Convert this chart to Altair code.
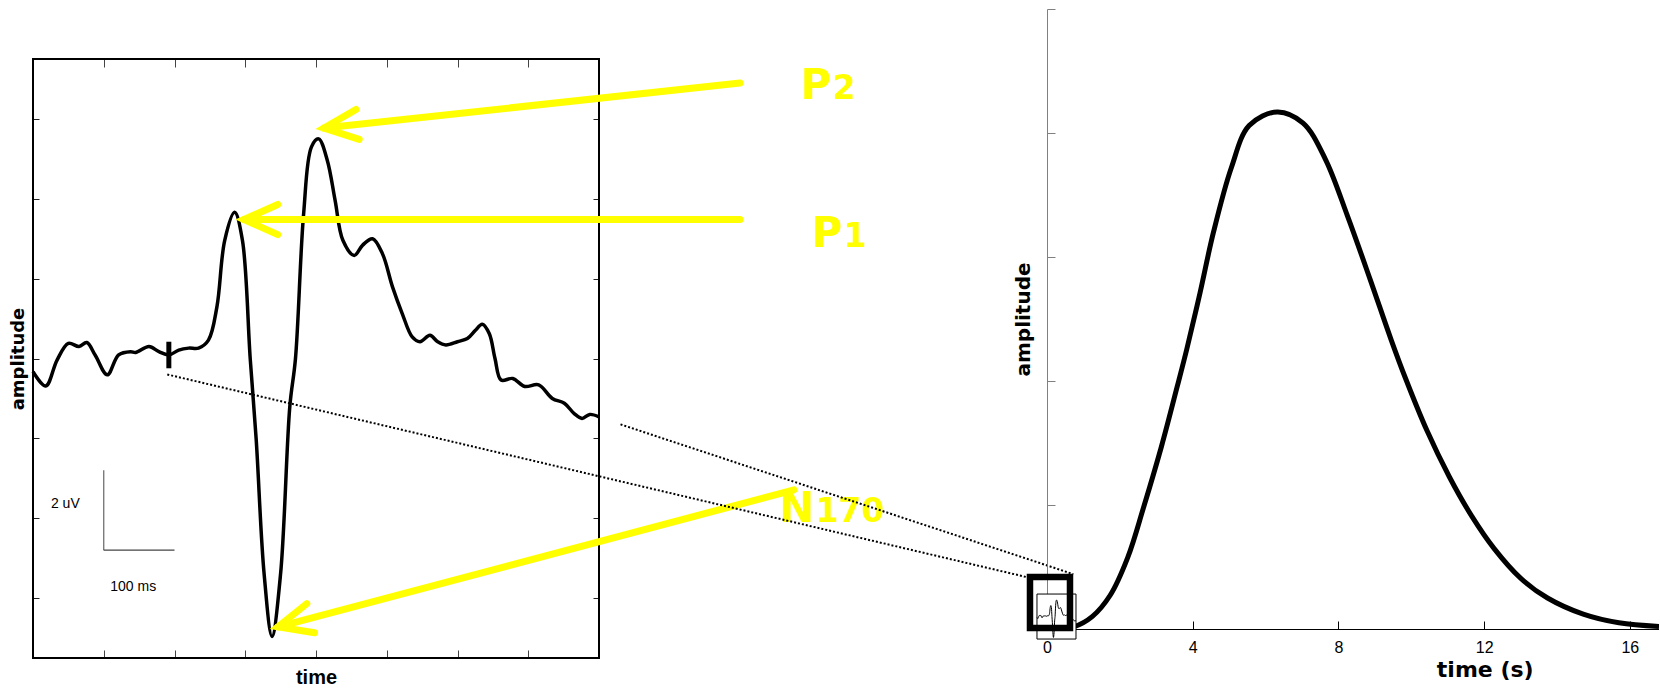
import math

import altair as alt
import pandas as pd

# ---------------- ERP trace (left panel): time in ms, amplitude in microvolts ----------------
erp_ms = [-200, -182, -166, -150, -135, -124, -112, -95, -79, -62, -55, -36, -22, -8, 6, 20, 34,
          48, 60, 71, 85, 96, 107, 115.5, 126.6, 137.8, 150, 163, 171, 182.5, 193.6, 203.7,
          216, 227, 238, 254, 266, 280, 294, 308, 322, 336, 347, 361, 372, 383.5, 400, 414,
          425, 435, 445, 453, 461.6, 478, 495, 514.7, 534, 551, 565, 576, 587, 600]
erp_uv = [-0.33, -0.69, -0.04, 0.38, 0.30, 0.40, 0.08, -0.41, 0.09, 0.17, 0.15, 0.30, 0.17, 0.09, 0.21, 0.26, 0.26,
          0.46, 1.30, 2.96, 3.66, 2.96, 0.0, -2.04, -5.38, -6.96, -5.38, -1.2, 0.0, 3.62, 5.30, 5.50,
          4.96, 3.96, 2.96, 2.58, 2.84, 3.0, 2.62, 1.8, 1.12, 0.54, 0.42, 0.58, 0.42, 0.34, 0.42, 0.50,
          0.70, 0.86, 0.62, 0.0, -0.54, -0.50, -0.70, -0.66, -1.0, -1.12, -1.38, -1.50, -1.40, -1.46]

# ---------------- haemodynamic response (right panel): time in s, arbitrary amplitude ----------------
hrf_t = [0, 0.75, 1.24, 1.73, 2.22, 2.65, 3.14, 3.57, 3.84, 4.20, 4.57, 5.06, 5.55, 6.32, 7.03,
         7.64, 8.25, 8.87, 9.45, 9.83, 10.43, 11.04, 11.66, 12.27, 13.0, 13.74, 14.72, 15.70, 16.8]
hrf_amp = [0, 0.02, 0.10, 0.27, 0.58, 0.98, 1.47, 1.95, 2.26, 2.71, 3.20, 3.72, 4.06, 4.17, 4.08,
           3.79, 3.33, 2.82, 2.33, 2.03, 1.60, 1.23, 0.91, 0.65, 0.41, 0.25, 0.12, 0.05, 0.02]

# ERP components: arrow tip, arrow tail and label anchor, in (ms, uV)
comp_letter = ["P", "P", "N"]
comp_digits = ["2", "1", "170"]
tip_ms = [211.3, 98.2, 146.3]
tip_uv = [5.77, 3.48, -6.72]
tail_ms = [799.3, 799.3, 875.6]
tail_uv = [6.90, 3.48, -3.29]
label_ms = [928.8, 944.4, 904.8]
label_uv = [6.50, 2.79, -4.09]

# dotted connectors from the ERP panel to the zoom box on the HRF time axis
link_ms = [-10.2, 630.4]
link_uv = [-0.40, -1.65]
link_end_ms = [1203.5, 1270.4]
link_end_uv = [-5.47, -5.40]

# stimulus onset marker
onset_ms = [-8]
onset_top = [0.42]
onset_bottom = [-0.245]

# calibration bars: 100 ms and 2 uV
calib_ms = [-100, 0]
calib_uv = [-2.8, -4.8]
calib_text = ["2 uV", "100 ms"]
calib_text_ms = [-154.3, -58.4]
calib_text_uv = [-3.64, -5.73]

# tick positions
erp_ticks_x = [-100, 0, 100, 200, 300, 400, 500]
erp_ticks_y = [-6, -4, -2, 0, 2, 4, 6]
hrf_ticks_x = [0, 4, 8, 12, 16]
hrf_ticks_y = [0, 1, 2, 3, 4, 5]

# zoom box around the HRF onset, and the miniature ERP inset (in s, amplitude)
focus_t = [-0.467, 0.631]
focus_amp = [0.008, 0.419]
inset_t = [-0.275, 0.796]
inset_amp = [-0.081, 0.282]

# ---------------- layout ----------------
W_L = 566          # ERP frame width
H_FRAME = 599      # ERP frame height
TOP_GAP = 50       # space above the ERP frame (the HRF panel starts higher)
H_L = H_FRAME + TOP_GAP
W_R, H_R = 612, 620
ERP_X = [-200, 600]
ERP_Y = [-7.5, 7.5]
HRF_X = [0, 16.8]
HRF_Y = [0, 5]
YELLOW = "#FFFF00"
NARROW = "Liberation Sans Narrow, Liberation Sans, sans-serif"

uv_per_px = (ERP_Y[1] - ERP_Y[0]) / H_FRAME
xs_l = alt.Scale(domain=ERP_X, nice=False, zero=False)
ys_l = alt.Scale(domain=[ERP_Y[0], ERP_Y[1] + TOP_GAP * uv_per_px], nice=False, zero=False)
xs_r = alt.Scale(domain=HRF_X, nice=False, zero=False)
ys_r = alt.Scale(domain=HRF_Y, nice=False, zero=False)


def tick_axis(orient, offset, values, size, color):
    """Ticks only; placed on the opposite edge so they point into the plot."""
    return alt.Axis(orient=orient, offset=offset, values=values, domain=False, labels=False,
                    grid=False, ticks=True, tickSize=size, tickColor=color, tickWidth=1,
                    title=None)


erp = pd.DataFrame({"ms": erp_ms, "uv": erp_uv})
hrf = pd.DataFrame({"t": hrf_t, "amp": hrf_amp})

# arrow geometry: head angle follows the shaft direction on screen
px_ms = W_L / (ERP_X[1] - ERP_X[0])
px_uv = H_FRAME / (ERP_Y[1] - ERP_Y[0])
angles = []
for a, b, c, d in zip(tip_ms, tip_uv, tail_ms, tail_uv):
    ang = math.degrees(math.atan2(-(d - b) * px_uv, (c - a) * px_ms)) % 360
    angles.append(ang)

comps = pd.DataFrame({
    "letter": comp_letter, "digits": comp_digits,
    "tip_ms": tip_ms, "tip_uv": tip_uv, "tail_ms": tail_ms, "tail_uv": tail_uv,
    "lab_ms": label_ms, "lab_uv": label_uv, "ang": angles,
})
links = pd.DataFrame({"ms": link_ms, "uv": link_uv, "ms2": link_end_ms, "uv2": link_end_uv})
onset = pd.DataFrame({"ms": onset_ms, "top": onset_top, "bottom": onset_bottom})
calib_v = pd.DataFrame({"ms": [calib_ms[0]], "uv": [calib_uv[0]], "uv2": [calib_uv[1]]})
calib_h = pd.DataFrame({"ms": [calib_ms[0]], "ms2": [calib_ms[1]], "uv": [calib_uv[1]]})
calib_lbl = pd.DataFrame({"text": calib_text, "ms": calib_text_ms, "uv": calib_text_uv})
frame_df = pd.DataFrame({"x0": [ERP_X[0]], "x1": [ERP_X[1]], "y0": [ERP_Y[0]], "y1": [ERP_Y[1]]})

# ---------------- left panel: ERP ----------------
frame = alt.Chart(frame_df).mark_rect(fillOpacity=0, stroke="black", strokeWidth=2).encode(
    x=alt.X("x0:Q", scale=xs_l, axis=alt.Axis(
        orient="bottom", domain=False, ticks=False, labels=False, grid=False,
        title="time", titleFont=NARROW, titleFontSize=20, titleFontWeight="bold",
        titleColor="black", titleX=W_L / 2, titleY=25, titleAlign="center",
        titleBaseline="alphabetic")),
    x2="x1:Q",
    y=alt.Y("y0:Q", scale=ys_l, axis=alt.Axis(
        orient="left", domain=False, ticks=False, labels=False, grid=False,
        title="amplitude", titleFont="DejaVu Sans", titleFontSize=18, titleFontWeight="bold",
        titleColor="black", titleAngle=270, titleX=-15, titleY=TOP_GAP + H_FRAME / 2,
        titleAlign="center", titleBaseline="middle")),
    y2="y1:Q",
)

wave = alt.Chart(erp).mark_line(color="black", strokeWidth=3.5, interpolate="catmull-rom").encode(
    x=alt.X("ms:Q", scale=xs_l, axis=tick_axis("top", -H_L, erp_ticks_x, 8, "#444444")),
    y=alt.Y("uv:Q", scale=ys_l, axis=tick_axis("right", -W_L, erp_ticks_y, 6, "#222222")),
)

onset_mark = alt.Chart(onset).mark_rule(color="black", strokeWidth=5).encode(
    x=alt.X("ms:Q", scale=xs_l, axis=tick_axis("bottom", -H_FRAME, erp_ticks_x, 8, "#444444")),
    y=alt.Y("top:Q", scale=ys_l, axis=tick_axis("left", -W_L, erp_ticks_y, 6, "#222222")),
    y2="bottom:Q",
)

bar_v = alt.Chart(calib_v).mark_rule(color="#666666", strokeWidth=1.2).encode(
    x=alt.X("ms:Q", scale=xs_l, axis=None),
    y=alt.Y("uv:Q", scale=ys_l, axis=None),
    y2="uv2:Q",
)
bar_h = alt.Chart(calib_h).mark_rule(color="#444444", strokeWidth=1.2).encode(
    x=alt.X("ms:Q", scale=xs_l, axis=None),
    x2="ms2:Q",
    y=alt.Y("uv:Q", scale=ys_l, axis=None),
)
bar_text = alt.Chart(calib_lbl).mark_text(
    font=NARROW, fontSize=14, color="black", align="center", baseline="middle",
).encode(
    x=alt.X("ms:Q", scale=xs_l, axis=None),
    y=alt.Y("uv:Q", scale=ys_l, axis=None),
    text="text:N",
)

shafts = alt.Chart(comps).mark_rule(color=YELLOW, strokeWidth=7, strokeCap="round").encode(
    x=alt.X("tail_ms:Q", scale=xs_l, axis=None),
    y=alt.Y("tail_uv:Q", scale=ys_l, axis=None),
    x2="tip_ms:Q",
    y2="tip_uv:Q",
)
heads = alt.Chart(comps).mark_point(
    shape="M 1 -0.445 L 0 0 L 1 0.445", filled=False, size=4570, strokeWidth=7,
    color=YELLOW, opacity=1, strokeCap="round", strokeJoin="miter",
).encode(
    x=alt.X("tip_ms:Q", scale=xs_l, axis=None),
    y=alt.Y("tip_uv:Q", scale=ys_l, axis=None),
    angle=alt.Angle("ang:Q", scale=None),
)
letters = alt.Chart(comps).mark_text(
    font="DejaVu Sans", fontWeight="bold", fontSize=42, color=YELLOW,
    align="right", baseline="alphabetic",
).encode(
    x=alt.X("lab_ms:Q", scale=xs_l, axis=None),
    y=alt.Y("lab_uv:Q", scale=ys_l, axis=None),
    text="letter:N",
)
digits = alt.Chart(comps).mark_text(
    font="DejaVu Sans", fontWeight="bold", fontSize=33, color=YELLOW,
    align="left", baseline="alphabetic", dx=1,
).encode(
    x=alt.X("lab_ms:Q", scale=xs_l, axis=None),
    y=alt.Y("lab_uv:Q", scale=ys_l, axis=None),
    text="digits:N",
)

connectors = alt.Chart(links).mark_rule(color="black", strokeWidth=2, strokeDash=[2, 2]).encode(
    x=alt.X("ms:Q", scale=xs_l, axis=None),
    y=alt.Y("uv:Q", scale=ys_l, axis=None),
    x2="ms2:Q",
    y2="uv2:Q",
)

left = alt.layer(
    frame, wave, onset_mark, bar_v, bar_h, bar_text, shafts, heads, letters, digits, connectors
).resolve_axis(x="independent", y="independent").properties(width=W_L, height=H_L)

# ---------------- right panel: HRF ----------------
hrf_line = alt.Chart(hrf).mark_line(
    color="black", strokeWidth=5, interpolate="catmull-rom", clip=True
).encode(
    x=alt.X("t:Q", scale=xs_r, axis=alt.Axis(
        orient="bottom", values=hrf_ticks_x, format="d", domain=True, domainColor="black",
        domainWidth=1, ticks=False, labels=True, labelFont="Liberation Sans", labelFontSize=16,
        labelColor="black", labelPadding=10, labelFlush=False, grid=False,
        title="time (s)", titleFont="DejaVu Sans", titleFontSize=22, titleFontWeight="bold",
        titleColor="black", titleX=437.7, titleY=47.5, titleAlign="center",
        titleBaseline="alphabetic")),
    y=alt.Y("amp:Q", scale=ys_r, axis=alt.Axis(
        orient="left", domain=True, domainColor="#808080", domainWidth=1, ticks=False,
        labels=False, grid=False, title="amplitude", titleFont="DejaVu Sans", titleFontSize=20,
        titleFontWeight="bold", titleColor="black", titleAngle=270, titleX=-24, titleY=310,
        titleAlign="center", titleBaseline="middle")),
)

inset_df = pd.DataFrame({"t0": [inset_t[0]], "t1": [inset_t[1]],
                         "a0": [inset_amp[0]], "a1": [inset_amp[1]]})
inset_frame = alt.Chart(inset_df).mark_rect(fill="white", stroke="black", strokeWidth=1).encode(
    x=alt.X("t0:Q", scale=xs_r, axis=tick_axis("top", -H_R, hrf_ticks_x[1:], 8, "black")),
    x2="t1:Q",
    y=alt.Y("a0:Q", scale=ys_r, axis=tick_axis("right", -W_R, hrf_ticks_y[1:], 8, "#808080")),
    y2="a1:Q",
)

# miniature copy of the ERP trace, mapped into the inset rectangle
sx = (inset_t[1] - inset_t[0]) / (ERP_X[1] - ERP_X[0])
sy = (inset_amp[1] - inset_amp[0]) / (ERP_Y[1] - ERP_Y[0])
mini = alt.Chart(erp).transform_calculate(
    t=f"{inset_t[0]} + (datum.ms - ({ERP_X[0]})) * {sx}",
    amp=f"{inset_amp[0]} + (datum.uv - ({ERP_Y[0]})) * {sy}",
).mark_line(color="black", strokeWidth=1, interpolate="monotone").encode(
    x=alt.X("t:Q", scale=xs_r, axis=None),
    y=alt.Y("amp:Q", scale=ys_r, axis=None),
)

focus_df = pd.DataFrame({"t0": [focus_t[0]], "t1": [focus_t[1]],
                         "a0": [focus_amp[0]], "a1": [focus_amp[1]]})
focus_box = alt.Chart(focus_df).mark_rect(fillOpacity=0, stroke="black", strokeWidth=6.5).encode(
    x=alt.X("t0:Q", scale=xs_r, axis=None),
    x2="t1:Q",
    y=alt.Y("a0:Q", scale=ys_r, axis=None),
    y2="a1:Q",
)

right = alt.layer(hrf_line, inset_frame, mini, focus_box).resolve_axis(
    x="independent", y="independent"
).properties(width=W_R, height=H_R)

chart = alt.hconcat(left, right, spacing=448, bounds="flush").properties(
    padding={"left": 9, "top": 8, "right": 0, "bottom": 0}
).configure_view(strokeWidth=0)

chart.save("out.html", embed_options={"renderer": "svg", "actions": False})
